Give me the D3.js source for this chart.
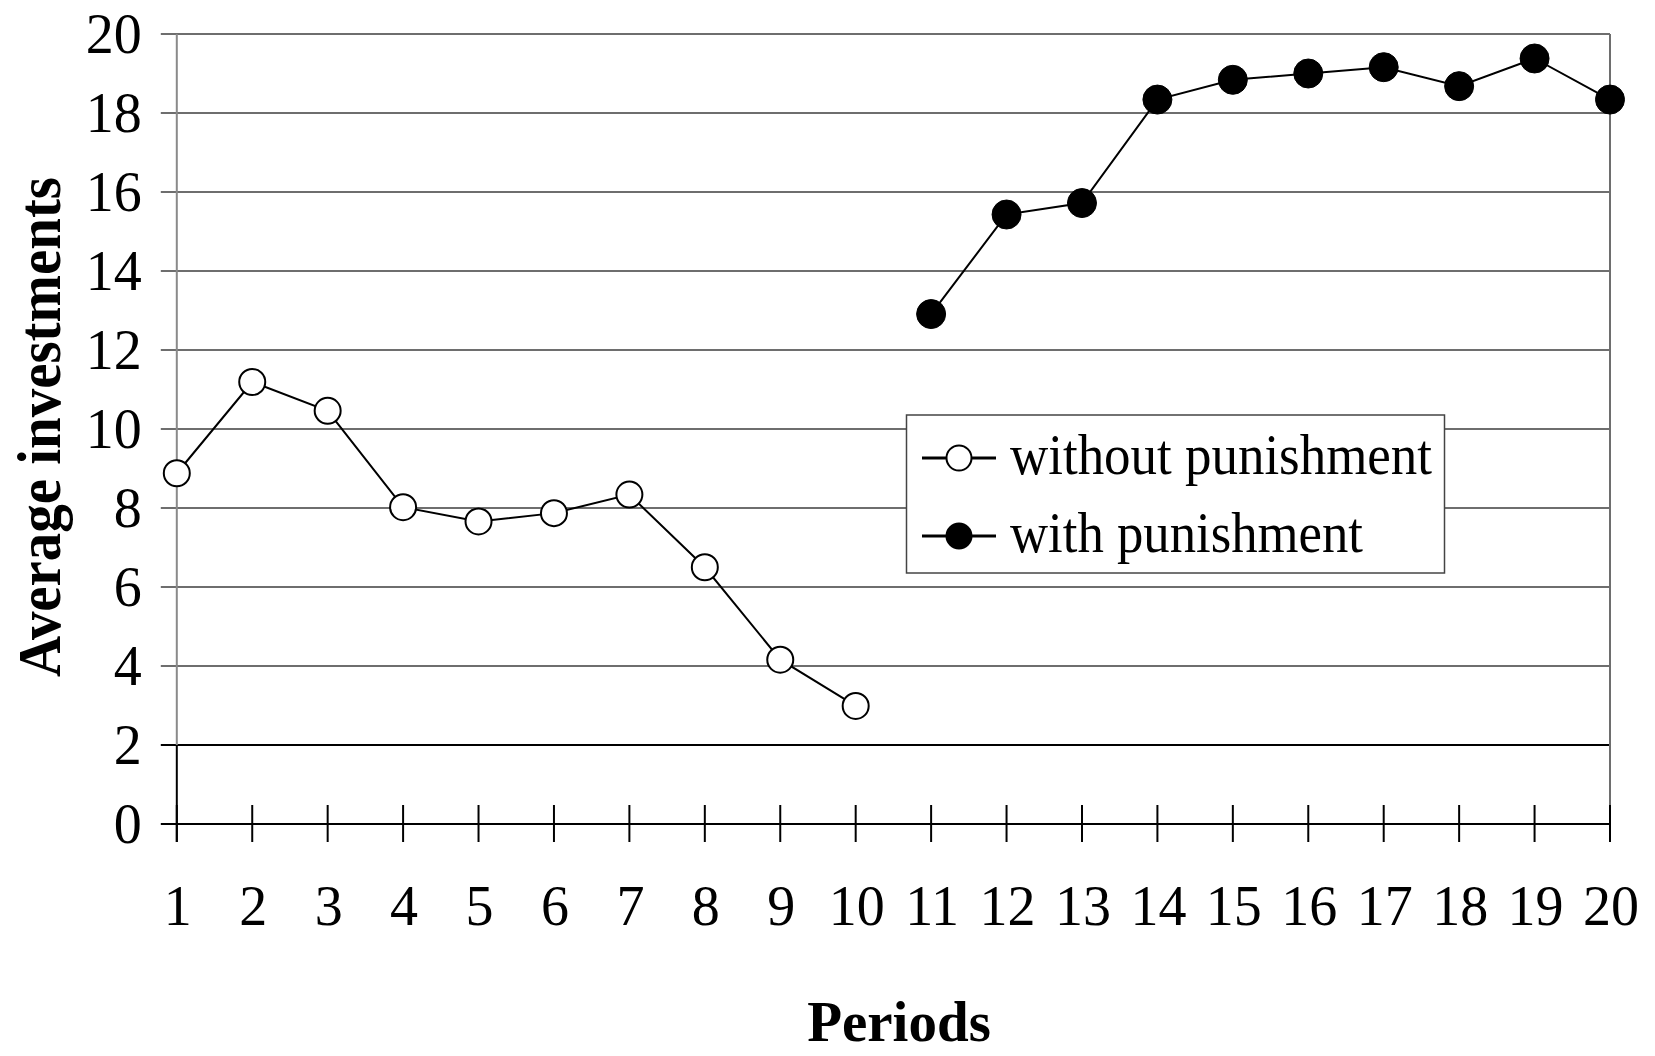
<!DOCTYPE html>
<html>
<head>
<meta charset="utf-8">
<script src="https://cdn.jsdelivr.net/npm/d3@7"></script>
<style>
  html, body { margin: 0; padding: 0; background: #fff; }
  svg { display: block; }
  text { font-family: "Liberation Serif", "Times New Roman", serif; fill: #000; }
</style>
</head>
<body>
<script>
// ---- data ----
const periods = [1,2,3,4,5,6,7,8,9,10,11,12,13,14,15,16,17,18,19,20];
const withoutPeriods = [1,2,3,4,5,6,7,8,9,10];
const withoutValues = [8.88, 11.19, 10.46, 8.02, 7.66, 7.87, 8.34, 6.50, 4.16, 2.99];
const withPeriods = [11,12,13,14,15,16,17,18,19,20];
const withValues = [12.91, 15.43, 15.72, 18.34, 18.84, 19.00, 19.16, 18.68, 19.38, 18.34];
const yTicks = [0,2,4,6,8,10,12,14,16,18,20];
const seriesNames = ["without punishment", "with punishment"];
const xTitle = "Periods";
const yTitle = "Average investments";

// ---- layout ----
const W = 1655, H = 1056;
const mLeft = 176.8, mRight = 1610, mTop = 34, mBottom = 824;

const svg = d3.select("body").append("svg").attr("width", W).attr("height", H);

const x = d3.scaleLinear().domain([1, 20]).range([mLeft, mRight]);
const y = d3.scaleLinear().domain([0, 20]).range([mBottom, mTop]);

// gridlines
svg.append("g").selectAll("line").data(yTicks).join("line")
  .attr("x1", mLeft - 16).attr("x2", mRight)
  .attr("y1", d => y(d)).attr("y2", d => y(d))
  .attr("stroke", d => d <= 2 ? "#000" : "#6e6e6e")
  .attr("stroke-width", 2);

// y axis line (grey above 2, black below)
svg.append("line").attr("x1", mLeft).attr("x2", mLeft)
  .attr("y1", y(20)).attr("y2", y(2)).attr("stroke", "#8a8a8a").attr("stroke-width", 2);
svg.append("line").attr("x1", mLeft).attr("x2", mLeft)
  .attr("y1", y(2)).attr("y2", y(0) + 18).attr("stroke", "#000").attr("stroke-width", 2);

// right border
svg.append("line").attr("x1", mRight).attr("x2", mRight)
  .attr("y1", y(20)).attr("y2", y(0)).attr("stroke", "#6e6e6e").attr("stroke-width", 2);

// x ticks
svg.append("g").selectAll("line").data(periods).join("line")
  .attr("x1", d => x(d)).attr("x2", d => x(d))
  .attr("y1", y(0) - 19).attr("y2", y(0) + 18)
  .attr("stroke", "#000").attr("stroke-width", 2);

// y tick labels
svg.append("g").selectAll("text").data(yTicks).join("text")
  .attr("x", mLeft - 35).attr("y", d => y(d) + 19)
  .attr("text-anchor", "end").attr("font-size", 56)
  .text(d => d);

// x tick labels
svg.append("g").selectAll("text").data(periods).join("text")
  .attr("x", d => x(d) + 1).attr("y", 925)
  .attr("text-anchor", "middle").attr("font-size", 56)
  .text(d => d);

// axis titles
svg.append("text").attr("x", 899).attr("y", 1041)
  .attr("text-anchor", "middle").attr("font-size", 57).attr("font-weight", "bold")
  .text(xTitle);
svg.append("text")
  .attr("transform", "translate(60,427) rotate(-90)")
  .attr("text-anchor", "middle").attr("font-size", 62).attr("font-weight", "bold")
  .attr("textLength", 500).attr("lengthAdjust", "spacingAndGlyphs")
  .text(yTitle);

// lines
const line = d3.line().x(d => x(d[0])).y(d => y(d[1]));
const withoutData = withoutPeriods.map((p, i) => [p, withoutValues[i]]);
const withData = withPeriods.map((p, i) => [p, withValues[i]]);

svg.append("path").datum(withoutData).attr("d", line)
  .attr("fill", "none").attr("stroke", "#000").attr("stroke-width", 2);
svg.append("path").datum(withData).attr("d", line)
  .attr("fill", "none").attr("stroke", "#000").attr("stroke-width", 2);

svg.append("g").selectAll("circle").data(withoutData).join("circle")
  .attr("cx", d => x(d[0])).attr("cy", d => y(d[1])).attr("r", 13)
  .attr("fill", "#fff").attr("stroke", "#000").attr("stroke-width", 2);
svg.append("g").selectAll("circle").data(withData).join("circle")
  .attr("cx", d => x(d[0])).attr("cy", d => y(d[1])).attr("r", 14.5)
  .attr("fill", "#000").attr("stroke", "#000").attr("stroke-width", 1);

// legend
const lg = svg.append("g");
lg.append("rect").attr("x", 906.5).attr("y", 415).attr("width", 538).attr("height", 158)
  .attr("fill", "#fff").attr("stroke", "#444").attr("stroke-width", 1.5);
const rows = [
  { name: seriesNames[0], fill: "#fff", cy: 458, len: 422 },
  { name: seriesNames[1], fill: "#000", cy: 536, len: 353 }
];
rows.forEach(r => {
  lg.append("line").attr("x1", 922).attr("x2", 996).attr("y1", r.cy).attr("y2", r.cy)
    .attr("stroke", "#000").attr("stroke-width", 3);
  lg.append("circle").attr("cx", 959).attr("cy", r.cy).attr("r", 12.5)
    .attr("fill", r.fill).attr("stroke", "#000").attr("stroke-width", 2);
  lg.append("text").attr("x", 1010).attr("y", r.cy + 16).attr("font-size", 56)
    .attr("textLength", r.len).attr("lengthAdjust", "spacingAndGlyphs")
    .text(r.name);
});
</script>
</body>
</html>
